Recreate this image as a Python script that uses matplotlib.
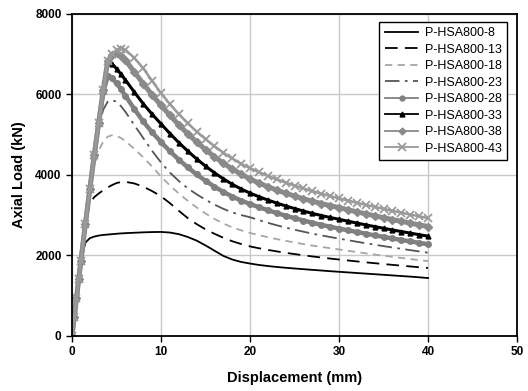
import matplotlib
matplotlib.use("Agg")
import matplotlib.pyplot as plt

plt.rcParams['font.family'] = ['Liberation Sans', 'DejaVu Sans']

disp = [0, 0.25, 0.5, 0.75, 1, 1.5, 2, 2.5, 3, 3.5, 4, 4.5, 5, 5.5, 6,
        7, 8, 9, 10, 11, 12, 13, 14, 15, 16, 17, 18, 19, 20,
        21, 22, 23, 24, 25, 26, 27, 28, 29, 30,
        31, 32, 33, 34, 35, 36, 37, 38, 39, 40]

s8 = [0, 470, 940, 1410, 1870, 2320, 2430, 2470, 2495, 2510, 2520, 2530, 2540, 2548, 2555,
      2565, 2575, 2582, 2585, 2570, 2530, 2460, 2370, 2250, 2120, 1990, 1900, 1840, 1800,
      1765, 1738, 1715, 1695, 1677, 1660, 1643, 1627, 1610, 1595,
      1580, 1565, 1550, 1535, 1520, 1505, 1490, 1475, 1458, 1440]
s13 = [0, 470, 940, 1410, 1870, 2760, 3300, 3450, 3540, 3620, 3690, 3750, 3800, 3825, 3830,
       3790, 3710, 3600, 3470, 3300, 3110, 2930, 2780, 2650, 2540, 2440, 2355, 2285, 2225,
       2180, 2139, 2102, 2067, 2035, 2005, 1976, 1950, 1924, 1900,
       1876, 1853, 1830, 1809, 1788, 1767, 1747, 1728, 1708, 1690]
s18 = [0, 470, 940, 1410, 1870, 2780, 3620, 4220, 4600, 4830, 4950, 4990, 4970, 4920, 4840,
       4650, 4440, 4210, 3960, 3740, 3540, 3360, 3195, 3045, 2910, 2795, 2700, 2625, 2560,
       2505, 2455, 2407, 2364, 2323, 2284, 2247, 2214, 2181, 2150,
       2117, 2085, 2054, 2024, 1995, 1967, 1939, 1912, 1886, 1860]
s23 = [0, 470, 940, 1410, 1870, 2780, 3650, 4480, 5180, 5620, 5820, 5860, 5820, 5710, 5570,
       5240, 4920, 4600, 4310, 4060, 3850, 3670, 3520, 3385, 3265, 3160, 3070, 3005, 2950,
       2878, 2812, 2751, 2694, 2641, 2591, 2544, 2500, 2459, 2420,
       2380, 2342, 2304, 2268, 2233, 2199, 2166, 2133, 2101, 2070]
s28 = [0, 470, 940, 1410, 1870, 2780, 3650, 4500, 5300, 6050, 6450, 6400, 6280, 6130, 5970,
       5640, 5330, 5060, 4820, 4590, 4380, 4190, 4015, 3855, 3710, 3580, 3465, 3365, 3280,
       3200, 3125, 3055, 2989, 2927, 2869, 2814, 2762, 2714, 2670,
       2626, 2583, 2541, 2501, 2462, 2424, 2386, 2350, 2314, 2280]
s33 = [0, 470, 940, 1410, 1870, 2780, 3650, 4500, 5300, 6100, 6810, 6760, 6640, 6500, 6360,
       6060, 5770, 5510, 5270, 5030, 4805, 4595, 4400, 4220, 4055, 3905, 3770, 3652, 3550,
       3460, 3378, 3302, 3232, 3166, 3104, 3046, 2993, 2944, 2900,
       2852, 2806, 2761, 2718, 2676, 2635, 2595, 2556, 2517, 2480]
s38 = [0, 470, 940, 1410, 1870, 2780, 3650, 4500, 5300, 6100, 6820, 6990, 7030, 6960, 6850,
       6560, 6270, 5990, 5730, 5480, 5245, 5025, 4820, 4630, 4455, 4295, 4150, 4020, 3900,
       3800, 3709, 3626, 3549, 3477, 3410, 3348, 3291, 3238, 3190,
       3136, 3085, 3034, 2986, 2939, 2893, 2848, 2805, 2761, 2720]
s43 = [0, 470, 940, 1410, 1870, 2780, 3650, 4500, 5300, 6100, 6830, 7010, 7110, 7140, 7110,
       6910, 6650, 6340, 6030, 5760, 5510, 5285, 5080, 4890, 4715, 4555, 4410, 4280, 4170,
       4070, 3977, 3891, 3811, 3736, 3665, 3598, 3536, 3477, 3420,
       3364, 3310, 3258, 3208, 3159, 3111, 3064, 3018, 2973, 2930]

labels = ["P-HSA800-8", "P-HSA800-13", "P-HSA800-18", "P-HSA800-23",
          "P-HSA800-28", "P-HSA800-33", "P-HSA800-38", "P-HSA800-43"]
series = [s8, s13, s18, s23, s28, s33, s38, s43]

styles = [
    dict(color="black", lw=1.3, ls="-"),
    dict(color="black", lw=1.3, ls=(0, (7, 4))),
    dict(color="#a6a6a6", lw=1.3, ls=(0, (4, 3))),
    dict(color="#555555", lw=1.3, ls=(0, (8, 3, 1.5, 3))),
    dict(color="#808080", lw=3.2, ls="-", marker="o", ms=4, mec="#808080", mfc="#808080"),
    dict(color="black", lw=2.2, ls="-", marker="^", ms=3.5, mec="black", mfc="black"),
    dict(color="#8a8a8a", lw=3.6, ls="-", marker="D", ms=4, mec="#8a8a8a", mfc="#8a8a8a"),
    dict(color="#9a9a9a", lw=1.8, ls="-", marker="x", ms=6, mew=1.3, mec="#9a9a9a"),
]

fig = plt.figure(figsize=(5.28, 3.91), dpi=100)
ax = fig.add_axes([0.1364, 0.1407, 0.8428, 0.8235])

for y, lab, st in zip(series, labels, styles):
    ax.plot(disp, y, label=lab, **st)

ax.set_xlim(0, 50)
ax.set_ylim(0, 8000)
ax.set_xticks([0, 10, 20, 30, 40, 50])
ax.set_yticks([0, 2000, 4000, 6000, 8000])
ax.grid(True, color="#c8c8c8", lw=1.0)
ax.set_axisbelow(True)
for sp in ax.spines.values():
    sp.set_linewidth(1.3)
    sp.set_color("black")
ax.tick_params(direction="out", length=4, width=1, labelsize=8.5)
for t in ax.get_xticklabels() + ax.get_yticklabels():
    t.set_fontweight("bold")
ax.set_xlabel("Displacement (mm)", fontsize=10.5, fontweight="bold", labelpad=9)
ax.set_ylabel("Axial Load (kN)", fontsize=10.5, fontweight="bold", labelpad=7)

leg = ax.legend(loc="upper right", fontsize=9, frameon=True, fancybox=False,
                edgecolor="black", framealpha=1, handlelength=2.7,
                borderpad=0.45, labelspacing=0.36, handletextpad=0.5,
                bbox_to_anchor=(0.992, 0.996))
leg.get_frame().set_linewidth(1.0)
for h in leg.legend_handles:
    h.set_linewidth(1.3)
    m = h.get_marker()
    if m == "x":
        h.set_markersize(6)
    elif m not in (None, "None", ""):
        h.set_markersize(3.5)

fig.savefig("out.png", dpi=100)
